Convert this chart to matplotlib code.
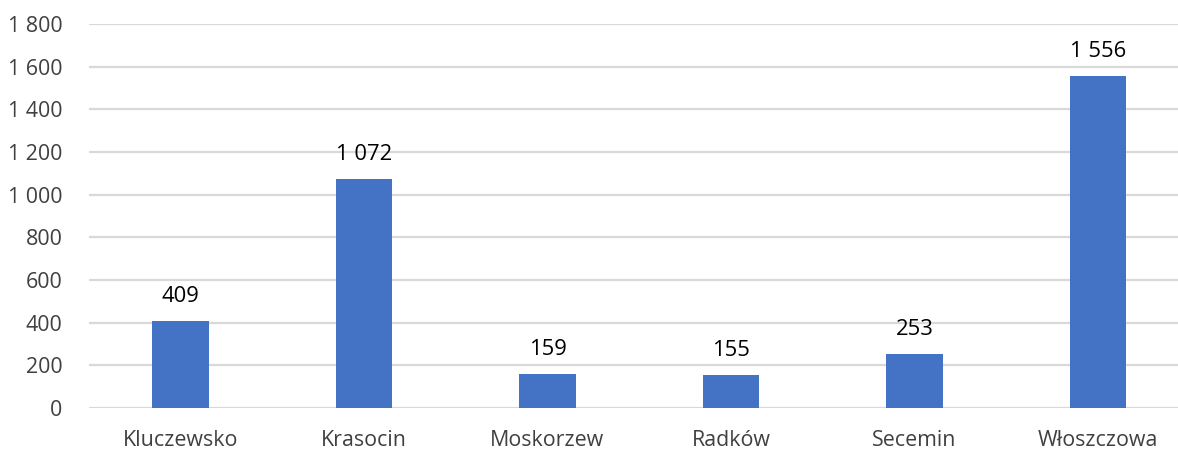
import matplotlib.pyplot as plt
import numpy as np

plt.rcParams['font.family'] = ['Open Sans', 'DejaVu Sans']

gminy = ['Kluczewsko', 'Krasocin', 'Moskorzew', 'Radków', 'Secemin', 'Włoszczowa']
wartosci = [409, 1072, 159, 155, 253, 1556]
y_ticks = [0, 200, 400, 600, 800, 1000, 1200, 1400, 1600, 1800]


def fmt(v):
    return f'{v:,}'.replace(',', ' ')


fig = plt.figure(figsize=(11.78, 4.53), dpi=100)
ax = fig.add_axes([0.0753, 0.0993, 0.9347, 0.8477])

x = np.arange(len(gminy))
ax.bar(x, wartosci, width=0.31, color='#4472C4', zorder=3)

for xi, v in zip(x, wartosci):
    ax.annotate(fmt(v), (xi, v), xytext=(0, 10), textcoords='offset points',
                ha='center', va='bottom', fontsize=15.8, color='black')

ax.set_xlim(-0.5, len(gminy) - 0.5)
ax.set_ylim(0, 1800)
ax.set_yticks(y_ticks)
ax.set_yticklabels([fmt(t) for t in y_ticks])
ax.set_xticks(x)
ax.set_xticklabels(gminy)
ax.grid(axis='y', color='#D9D9D9', linewidth=1.6, zorder=0)
for s in ax.spines.values():
    s.set_visible(False)
ax.tick_params(axis='both', length=0, labelsize=15.4, colors='#404040')
ax.tick_params(axis='y', pad=19)
ax.tick_params(axis='x', pad=16)

fig.savefig('out.png', dpi=100)
